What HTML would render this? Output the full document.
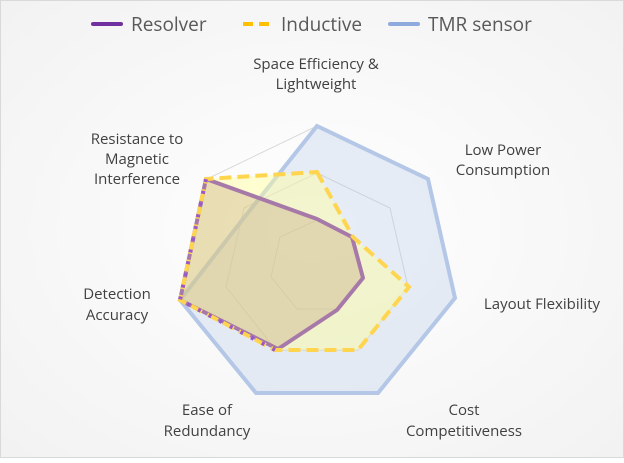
<!DOCTYPE html>
<html><head><meta charset="utf-8"><style>
html,body{margin:0;padding:0}
body{width:624px;height:458px;overflow:hidden;font-family:"Open Sans","Liberation Sans","DejaVu Sans",sans-serif}
</style></head><body>
<svg width="624" height="458" viewBox="0 0 624 458" xmlns="http://www.w3.org/2000/svg">
<defs>
<radialGradient id="bg" cx="50%" cy="50%" r="70%">
<stop offset="0%" stop-color="#ffffff"/><stop offset="100%" stop-color="#f2f2f2"/>
</radialGradient>
</defs>
<rect x="0.5" y="0.5" width="623" height="457" fill="url(#bg)" stroke="#d9d9d9"/>
<g fill="none" stroke="#d9d9d9" stroke-width="1">
<polygon points="317,126 427,179 454,298 378,393 256,393 180,298 207,179"/>
<polygon points="317,173 390,208 408,287 358,350 276,350 226,287 244,208"/>
<polygon points="317,220 354,237 363,277 337,309 297,309 271,277 280,237"/>
</g>
<polygon points="317,126 428,179 455,298 378,393 256,393 180,300 243,219" fill="#b4c7e7" fill-opacity="0.3" stroke="#b4c7e7" stroke-width="4" stroke-linejoin="miter"/>
<polygon points="317,172 353,237 409,287 358,350 275,350 180,300 206,179" fill="#ffff99" fill-opacity="0.45" stroke="none"/>
<polygon points="317,219 352,237 363,278 337,310 278,349 180,300 206,179" fill="#b08060" fill-opacity="0.25" stroke="#a779a8" stroke-width="4" stroke-linejoin="round"/>
<polygon points="317,172 353,237 409,287 358,350 275,350 180,300 206,179" fill="none" stroke="#ffd54f" stroke-width="4" stroke-dasharray="12,6"/>
<polyline points="275,350 180,300 206,179" fill="none" stroke="#9b59c8" stroke-width="4" stroke-dasharray="3,9" stroke-dashoffset="-12"/>
<line x1="93" y1="24" x2="121" y2="24" stroke="#7030a0" stroke-width="4" stroke-linecap="round"/>
<line x1="243" y1="24" x2="271" y2="24" stroke="#ffc000" stroke-width="4" stroke-dasharray="10,6"/>
<line x1="390" y1="24" x2="418" y2="24" stroke="#8faadc" stroke-width="4" stroke-linecap="round"/>
<g font-size="19" fill="#595959">
<text x="131" y="31">Resolver</text>
<text x="281" y="31">Inductive</text>
<text x="428" y="31">TMR sensor</text>
</g>
<g font-size="15" fill="#404040" text-anchor="middle">
<text x="316" y="69">Space Efficiency &amp;</text>
<text x="316" y="89">Lightweight</text>
<text x="503" y="155">Low Power</text>
<text x="503" y="175">Consumption</text>
<text x="542" y="309">Layout Flexibility</text>
<text x="464" y="415">Cost</text>
<text x="464" y="436">Competitiveness</text>
<text x="207" y="415">Ease of</text>
<text x="207" y="436">Redundancy</text>
<text x="117" y="299">Detection</text>
<text x="117" y="320">Accuracy</text>
<text x="137" y="144">Resistance to</text>
<text x="137" y="164">Magnetic</text>
<text x="137" y="184">Interference</text>
</g>
</svg>
</body></html>
